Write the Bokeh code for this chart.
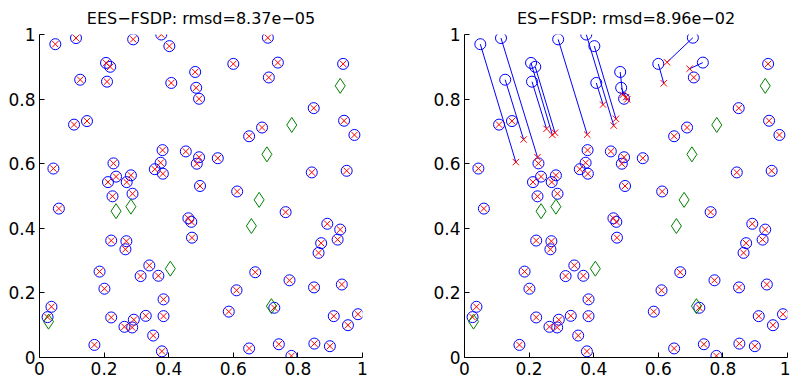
from bokeh.plotting import figure
from bokeh.layouts import row
from bokeh.models import Range1d, FixedTicker
from bokeh.embed import file_html
from bokeh.resources import INLINE

# True sensor positions (blue circles)
true_x = [0.049, 0.113, 0.126, 0.107, 0.147, 0.043, 0.206, 0.219, 0.209, 0.290,
          0.377, 0.402, 0.408, 0.482, 0.485, 0.494, 0.229, 0.212, 0.237, 0.226,
          0.283, 0.270, 0.288, 0.381, 0.375, 0.357, 0.382, 0.453, 0.494, 0.487,
          0.552, 0.497, 0.612, 0.707, 0.600, 0.738, 0.710, 0.940, 0.849, 0.943,
          0.975, 0.689, 0.649, 0.843, 0.951, 0.060, 0.222, 0.269, 0.266, 0.186,
          0.201, 0.340, 0.313, 0.368, 0.461, 0.470, 0.472, 0.025, 0.037, 0.222,
          0.292, 0.263, 0.287, 0.329, 0.384, 0.384, 0.352, 0.170, 0.379, 0.762,
          0.891, 0.931, 0.923, 0.872, 0.864, 0.668, 0.774, 0.610, 0.850, 0.936,
          0.727, 0.586, 0.911, 0.986, 0.955, 0.649, 0.741, 0.851, 0.899, 0.780]
true_y = [0.970, 0.989, 0.860, 0.721, 0.732, 0.585, 0.912, 0.900, 0.854, 0.985,
          1.000, 0.964, 0.850, 0.884, 0.835, 0.801, 0.601, 0.543, 0.560, 0.499,
          0.564, 0.543, 0.507, 0.642, 0.603, 0.583, 0.569, 0.638, 0.620, 0.600,
          0.617, 0.531, 0.514, 0.990, 0.909, 0.913, 0.867, 0.909, 0.772, 0.733,
          0.689, 0.712, 0.685, 0.573, 0.578, 0.461, 0.362, 0.360, 0.335, 0.266,
          0.213, 0.285, 0.252, 0.253, 0.431, 0.420, 0.371, 0.125, 0.157, 0.124,
          0.117, 0.095, 0.093, 0.129, 0.180, 0.128, 0.068, 0.039, 0.019, 0.450,
          0.414, 0.396, 0.365, 0.354, 0.324, 0.264, 0.239, 0.208, 0.217, 0.226,
          0.154, 0.142, 0.128, 0.134, 0.100, 0.028, 0.041, 0.043, 0.035, 0.005]

# Anchors (green diamonds)
anchor_x = [0.931, 0.781, 0.704, 0.237, 0.283, 0.405, 0.028, 0.680, 0.656, 0.718]
anchor_y = [0.841, 0.720, 0.629, 0.453, 0.467, 0.275, 0.111, 0.488, 0.407, 0.159]

# ES-FSDP: sensors whose estimate is visibly off (index into the lists above)
moved_idx = [0, 1, 2, 6, 7, 8, 9, 10, 11, 12, 13, 14, 15, 33, 34, 35]
moved_est_x = [0.159, 0.226, 0.183, 0.272, 0.280, 0.254, 0.380, 0.462, 0.469, 0.429,
               0.490, 0.500, 0.504, 0.627, 0.617, 0.697]
moved_est_y = [0.605, 0.620, 0.675, 0.689, 0.696, 0.708, 0.690, 0.718, 0.739, 0.783,
               0.813, 0.806, 0.799, 0.914, 0.849, 0.894]

titles = ["EES\u2212FSDP: rmsd=8.37e\u221205", "ES\u2212FSDP: rmsd=8.96e\u221202"]
tick_values = [0, 0.2, 0.4, 0.6, 0.8, 1]
tick_labels = ["0", "0.2", "0.4", "0.6", "0.8", "1"]

FONT = "DejaVu Sans"


def make_plot(title, width, border_left, border_right, est_x, est_y, seg):
    p = figure(width=width, height=382, x_range=Range1d(0, 1), y_range=Range1d(0, 1),
               output_backend="svg", toolbar_location=None,
               min_border_left=border_left, min_border_right=border_right,
               min_border_top=34, min_border_bottom=25)
    p.title.text = title
    p.title.align = "center"
    p.title.text_font = FONT
    p.title.text_font_size = "16px"
    p.title.text_font_style = "normal"
    p.title.text_color = "black"
    p.title.standoff = 13
    p.grid.visible = False
    p.outline_line_color = None
    p.background_fill_color = "white"
    p.border_fill_color = "white"
    for ax in (p.xaxis[0], p.yaxis[0]):
        ax.ticker = FixedTicker(ticks=tick_values)
        ax.major_label_overrides = {v: l for v, l in zip(tick_values, tick_labels)}
        ax.major_tick_in = 5
        ax.major_tick_out = 0
        ax.minor_tick_in = 0
        ax.minor_tick_out = 0
        ax.axis_line_color = "black"
        ax.major_tick_line_color = "black"
        ax.major_label_text_font = FONT
        ax.major_label_text_font_size = "17px"
        ax.major_label_text_color = "black"
        ax.major_label_standoff = 4
    if seg:
        p.segment(x0=seg[0], y0=seg[1], x1=seg[2], y1=seg[3], line_color="blue", line_width=1)
    p.scatter(true_x, true_y, marker="circle", size=11, fill_color=None,
              line_color="blue", line_width=1)
    p.scatter(est_x, est_y, marker="x", size=9, line_color="red", line_width=1)
    p.scatter(anchor_x, anchor_y, marker="diamond", size=15, fill_color=None,
              line_color="green", line_width=1)
    return p


# Left: EES-FSDP estimates coincide with true positions
p1 = make_plot(titles[0], 418, 39, 56, true_x, true_y, None)

# Right: ES-FSDP estimates
est_map = dict(zip(moved_idx, zip(moved_est_x, moved_est_y)))
est_x = [est_map[i][0] if i in est_map else true_x[i] for i in range(len(true_x))]
est_y = [est_map[i][1] if i in est_map else true_y[i] for i in range(len(true_y))]
seg = ([true_x[i] for i in moved_idx], [true_y[i] for i in moved_idx],
       moved_est_x, moved_est_y)
p2 = make_plot(titles[1], 372, 46, 3, est_x, est_y, seg)

layout = row(p1, p2, spacing=0)
open("out.html", "w").write(file_html(layout, INLINE))
